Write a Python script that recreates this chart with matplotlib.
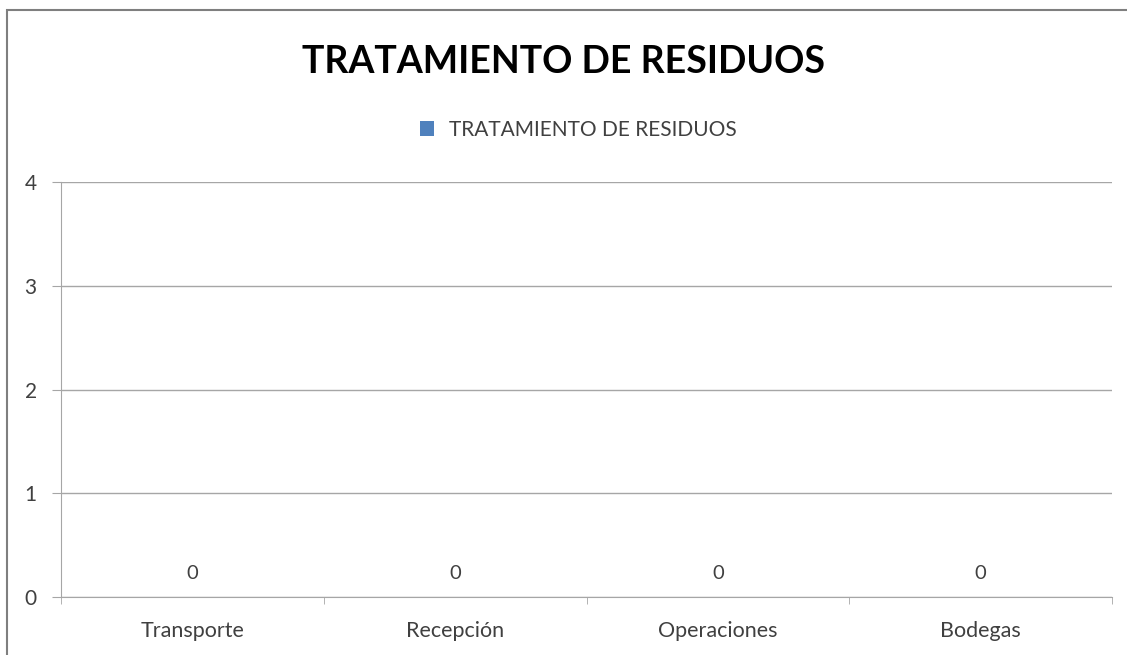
import matplotlib.pyplot as plt
from matplotlib.patches import Rectangle

plt.rcParams['font.family'] = ['Lato', 'DejaVu Sans']

# data
categories = ['Transporte', 'Recepción', 'Operaciones', 'Bodegas']
values = [0, 0, 0, 0]
series_name = 'TRATAMIENTO DE RESIDUOS'
y_ticks = [0, 1, 2, 3, 4]

text_color = '#404040'
grid_color = '#a6a6a6'
bar_color = '#4f81bd'

fig = plt.figure(figsize=(11.27, 6.55), dpi=100)
ax = fig.add_axes([61 / 1127, 1 - 597 / 655, (1112 - 61) / 1127, (597 - 182) / 655])

# outer chart frame (cut off at the right/bottom like the screenshot)
fig.patches.append(Rectangle((7 / 1127, -0.05), 1.1, 1 - 10 / 655 + 0.05,
                             transform=fig.transFigure, fill=False,
                             edgecolor='#7f7f7f', linewidth=1.5))

x = range(len(categories))
bars = ax.bar(x, values, width=0.6, color=bar_color, label=series_name)
ax.bar_label(bars, labels=[str(v) for v in values], padding=11,
             fontsize=14.5, color=text_color)

ax.set_xlim(-0.5, len(categories) - 0.5)
ax.set_ylim(0, 4)
ax.set_yticks(y_ticks)
ax.yaxis.grid(True, color=grid_color, linewidth=1)
ax.set_axisbelow(True)

ax.set_xticks(x)
ax.set_xticklabels(categories)
ax.tick_params(axis='x', length=0, pad=17, labelsize=15.5, labelcolor=text_color)
ax.tick_params(axis='y', length=6.5, color=grid_color, pad=11, labelsize=15, labelcolor=text_color)
# ticks between categories
ax.set_xticks([i - 0.5 for i in range(len(categories) + 1)], minor=True)
ax.tick_params(axis='x', which='minor', length=5, color=grid_color)

for s in ['top', 'right']:
    ax.spines[s].set_visible(False)
ax.spines['left'].set_color(grid_color)
ax.spines['bottom'].set_color(grid_color)

fig.text(0.5, 1 - 62 / 655, 'TRATAMIENTO DE RESIDUOS', ha='center', va='center',
         fontsize=27, fontweight='bold', color='black')
fig.legend(handles=[bars], labels=[series_name], loc='center',
           bbox_to_anchor=(0.513, 1 - 130 / 655), frameon=False,
           fontsize=15, handlelength=0.7, handleheight=0.7, handletextpad=0.7,
           labelcolor=text_color)

fig.savefig('out.png', dpi=100, facecolor='white')
